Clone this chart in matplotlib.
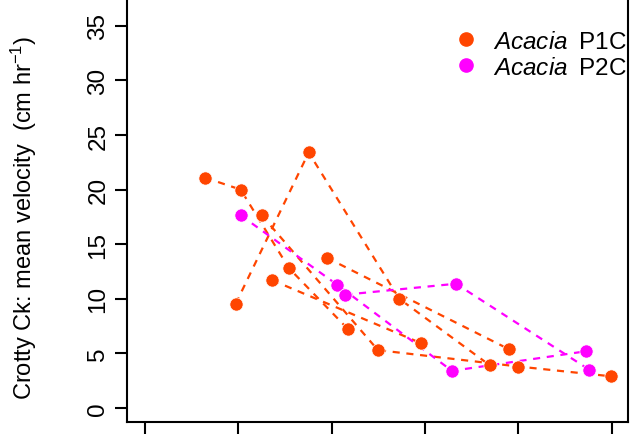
import matplotlib
matplotlib.use('Agg')
import matplotlib.pyplot as plt
from matplotlib.lines import Line2D

plt.rcParams['font.family'] = ['Liberation Sans', 'DejaVu Sans']
plt.rcParams['mathtext.fontset'] = 'custom'
plt.rcParams['mathtext.rm'] = 'Liberation Sans'
plt.rcParams['mathtext.it'] = 'Liberation Sans:italic'

# Acacia P1C runs (x in axis-tick units, velocity in cm/hr)
p1c_runs_x = [
    [0.643, 1.025, 1.543, 2.178],
    [0.972, 1.754, 2.725, 3.696],
    [1.250, 2.496, 4.000, 4.996],
    [1.364, 2.954],
    [1.950, 3.900],
]
p1c_runs_y = [
    [21.1, 20.0, 12.8, 7.2],
    [9.55, 23.4, 10.0, 3.9],
    [17.65, 5.3, 3.8, 2.9],
    [11.7, 5.95],
    [13.75, 5.38],
]

# Acacia P2C runs
p2c_runs_x = [
    [1.025, 2.057, 3.289, 4.728],
    [2.146, 3.332, 4.761],
]
p2c_runs_y = [
    [17.65, 11.3, 3.4, 5.2],
    [10.38, 11.38, 3.5],
]

y_ticks = [0, 5, 10, 15, 20, 25, 30, 35]
x_ticks = [0, 1, 2, 3, 4, 5]

col1 = '#FF4500'
col2 = '#FF00FF'

fig = plt.figure(figsize=(6.3, 4.35), dpi=100)
ax = fig.add_axes([0.2011, 0.0269, 0.7957, 1.0231])

for xs, ys in zip(p1c_runs_x, p1c_runs_y):
    ax.plot(xs, ys, color=col1, lw=1.6, ls=(0, (3.2, 3)), zorder=2)
for xs, ys in zip(p2c_runs_x, p2c_runs_y):
    ax.plot(xs, ys, color=col2, lw=1.6, ls=(0, (3.2, 3)), zorder=2)
for xs, ys in zip(p1c_runs_x, p1c_runs_y):
    ax.plot(xs, ys, 'o', color=col1, ms=9.5, mec='white', mew=0.5, zorder=3)
for xs, ys in zip(p2c_runs_x, p2c_runs_y):
    ax.plot(xs, ys, 'o', color=col2, ms=9.5, mec='white', mew=0.5, zorder=3)

ax.set_xlim(-0.196, 5.175)
ax.set_ylim(-1.31, 39.45)
ax.set_xticks(x_ticks)
ax.set_yticks(y_ticks)
ax.set_yticklabels([str(v) for v in y_ticks], rotation=90, va='center', fontsize=17.5)
ax.tick_params(axis='both', length=9, width=1.5, direction='out', pad=3.5)
ax.tick_params(axis='x', labelbottom=False)
for s in ['left', 'bottom', 'right']:
    ax.spines[s].set_linewidth(1.5)
ax.spines['top'].set_visible(False)

fig.text(0.038, 0.5, r'Crotty Ck: mean velocity  (cm hr$^{-1}$)',
         rotation=90, ha='center', va='center', fontsize=17)

handles = [Line2D([], [], marker='o', ls='none', color=col1, ms=9.5),
           Line2D([], [], marker='o', ls='none', color=col2, ms=9.5)]
labels = [r'$\mathit{Acacia}$' + '\u2009 P1C', r'$\mathit{Acacia}$' + '\u2009 P2C']
ax.legend(handles, labels, loc='upper right', bbox_to_anchor=(1.006, 0.9433),
          bbox_transform=fig.transFigure, frameon=False, fontsize=17.5,
          handlelength=1.0, handletextpad=0.6, labelspacing=0.15,
          borderaxespad=0, borderpad=0.3)

fig.savefig('out.png', dpi=100)
